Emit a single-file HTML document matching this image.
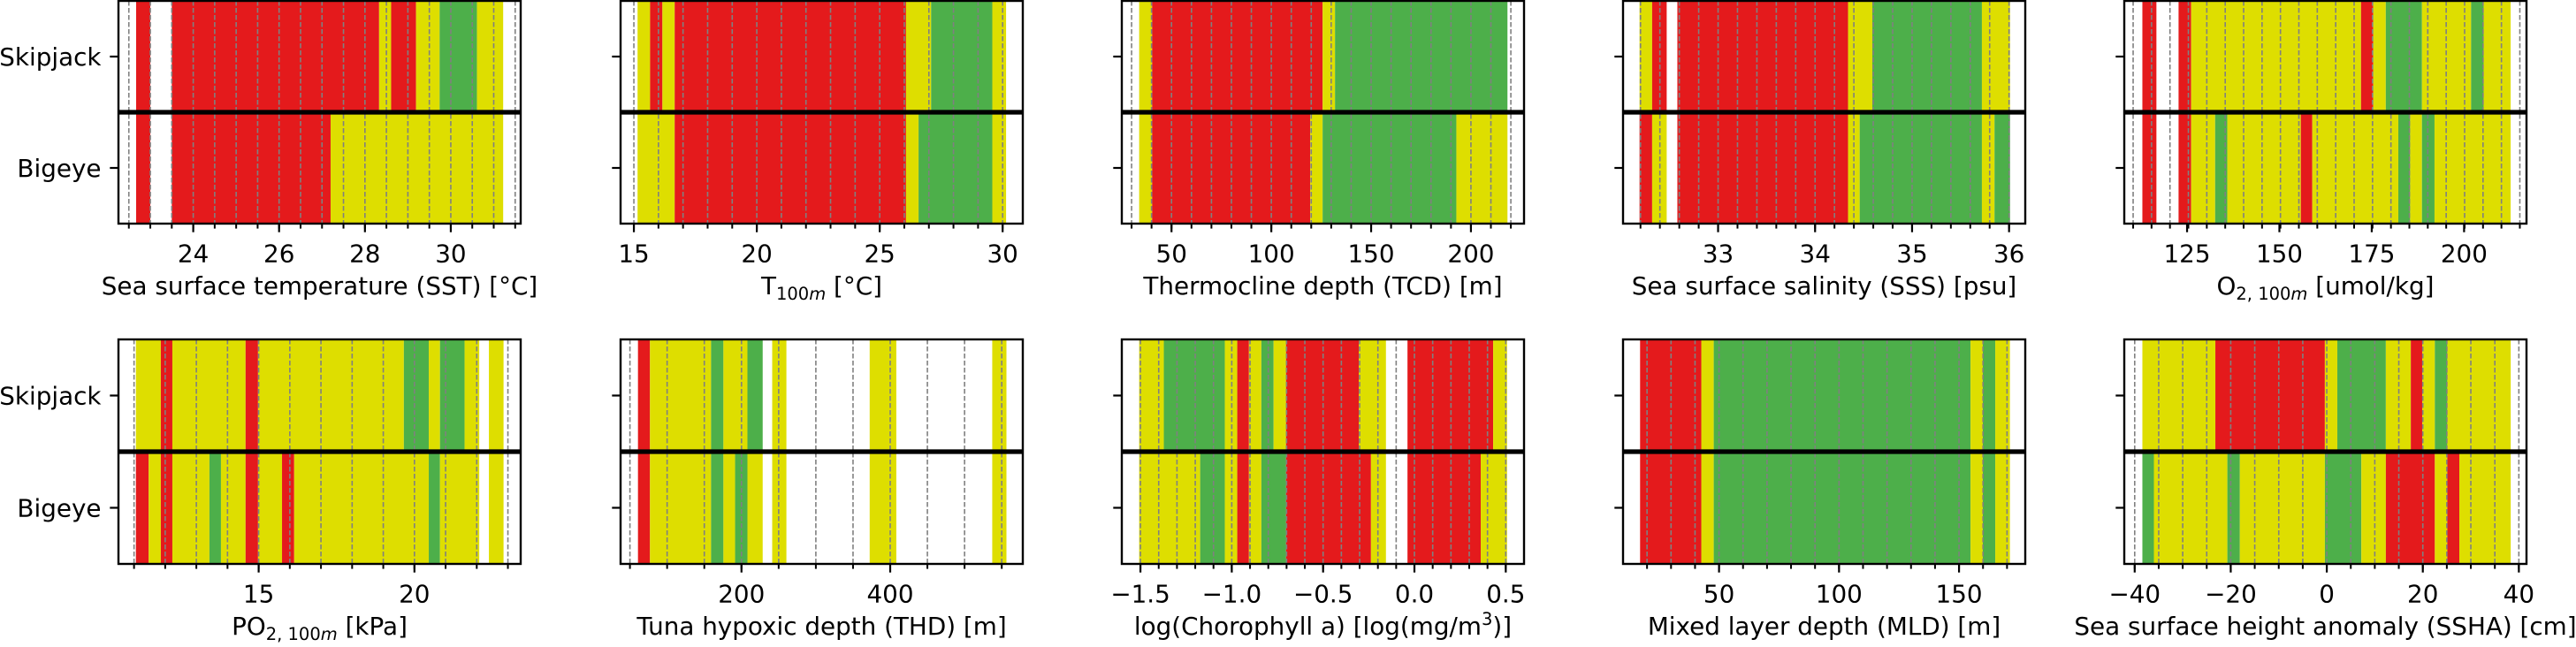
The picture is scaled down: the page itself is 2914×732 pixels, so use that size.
<!DOCTYPE html>
<html><head><meta charset="utf-8"><style>
html,body{margin:0;padding:0;background:#fff;}
svg{display:block;font-family:"DejaVu Sans","Liberation Sans",sans-serif;}
</style></head><body>
<svg id="fig" xmlns="http://www.w3.org/2000/svg" width="2914" height="732" viewBox="0 0 2914 732"></svg>
<script>
// ---- data ----
const species = ['Skipjack', 'Bigeye'];
const sstDomain = [22.258, 31.628];
const sstTicks = [24, 26, 28, 30];
const sstGrid = [22.5, 31.5, 19];
const sstSkip = [[22.67,23.0,'R'],[23.5,28.33,'R'],[28.33,28.61,'Y'],[28.61,29.19,'R'],[29.19,29.74,'Y'],[29.74,30.61,'G'],[30.61,31.22,'Y']];
const sstBig = [[22.67,23.0,'R'],[23.5,27.20,'R'],[27.20,31.22,'Y']];

const t100Domain = [14.459, 30.82];
const t100Ticks = [15, 20, 25, 30];
const t100Grid = [15, 30, 16];
const t100Skip = [[15.15,15.66,'Y'],[15.66,16.16,'R'],[16.16,16.66,'Y'],[16.66,26.07,'R'],[26.07,27.09,'Y'],[27.09,29.58,'G'],[29.58,30.14,'Y']];
const t100Big = [[15.15,16.66,'Y'],[16.66,26.07,'R'],[26.07,26.58,'Y'],[26.58,29.58,'G'],[29.58,30.14,'Y']];

const tcdDomain = [25.1, 226.6];
const tcdTicks = [50, 100, 150, 200];
const tcdGrid = [30, 220, 20];
const tcdSkip = [[33.8,40.3,'Y'],[40.3,125.7,'R'],[125.7,131.9,'Y'],[131.9,218.3,'G']];
const tcdBig = [[33.8,40.3,'Y'],[40.3,119.5,'R'],[119.5,125.7,'Y'],[125.7,192.7,'G'],[192.7,218.3,'Y']];

const sssDomain = [32.02, 36.167];
const sssTicks = [33, 34, 35, 36];
const sssGrid = [32.2, 36.0, 20];
const sssSkip = [[32.19,32.32,'Y'],[32.32,32.47,'R'],[32.58,34.34,'R'],[34.34,34.59,'Y'],[34.59,35.72,'G'],[35.72,36.01,'Y']];
const sssBig = [[32.19,32.32,'R'],[32.32,32.47,'Y'],[32.58,34.34,'R'],[34.34,34.46,'Y'],[34.46,35.72,'G'],[35.72,35.85,'Y'],[35.85,36.01,'G']];

const o2Domain = [108.0, 216.9];
const o2Ticks = [125, 150, 175, 200];
const o2Grid = [110.4, 215.1, 22];
const o2Skip = [[112.9,116.7,'R'],[122.7,126.1,'R'],[126.1,172.1,'Y'],[172.1,175.4,'R'],[175.4,178.8,'Y'],[178.8,188.6,'G'],[188.6,201.9,'Y'],[201.9,205.3,'G'],[205.3,212.6,'Y']];
const o2Big = [[112.9,116.7,'R'],[122.7,126.1,'R'],[126.1,132.6,'Y'],[132.6,135.9,'G'],[135.9,155.8,'Y'],[155.8,158.9,'R'],[158.9,182.2,'Y'],[182.2,185.4,'G'],[185.4,188.6,'Y'],[188.6,192.0,'G'],[192.0,212.6,'Y']];

const po2Domain = [10.50, 23.41];
const po2Ticks = [15, 20];
const po2Grid = [11, 23, 13];
const po2Skip = [[11.06,11.86,'Y'],[11.86,12.23,'R'],[12.23,14.58,'Y'],[14.58,14.98,'R'],[14.98,19.66,'Y'],[19.66,20.46,'G'],[20.46,20.82,'Y'],[20.82,21.61,'G'],[21.61,22.08,'Y'],[22.39,22.86,'Y']];
const po2Big = [[11.06,11.47,'R'],[11.47,11.86,'Y'],[11.86,12.23,'R'],[12.23,13.42,'Y'],[13.42,13.79,'G'],[13.79,14.58,'Y'],[14.58,14.98,'R'],[14.98,15.75,'Y'],[15.75,16.14,'R'],[16.14,20.46,'Y'],[20.46,20.82,'G'],[20.82,22.08,'Y'],[22.39,22.86,'Y']];

const thdDomain = [37.4, 578.3];
const thdTicks = [200, 400];
const thdGrid = [50, 550, 11];
const thdSkip = [[60.8,76.9,'R'],[76.9,159.1,'Y'],[159.1,175.7,'G'],[175.7,208,'Y'],[208,228.5,'G'],[241.3,260.4,'Y'],[372.4,408.2,'Y'],[537.2,556.3,'Y']];
const thdBig = [[60.8,76.9,'R'],[76.9,159.1,'Y'],[159.1,175.7,'G'],[175.7,191.4,'Y'],[191.4,208,'G'],[208,228.5,'Y'],[241.3,260.4,'Y'],[372.4,408.2,'Y'],[537.2,556.3,'Y']];

const chlDomain = [-1.602, 0.600];
const chlTicks = [-1.5, -1.0, -0.5, 0.0, 0.5];
const chlGrid = [-1.5, 0.5, 21];
const chlSkip = [[-1.507,-1.372,'Y'],[-1.372,-1.038,'G'],[-1.038,-0.970,'Y'],[-0.970,-0.906,'R'],[-0.906,-0.838,'Y'],[-0.838,-0.771,'G'],[-0.771,-0.703,'Y'],[-0.703,-0.305,'R'],[-0.305,-0.156,'Y'],[-0.038,0.431,'R'],[0.431,0.507,'Y']];
const chlBig = [[-1.507,-1.173,'Y'],[-1.173,-1.038,'G'],[-1.038,-0.970,'Y'],[-0.970,-0.906,'R'],[-0.906,-0.838,'Y'],[-0.838,-0.703,'G'],[-0.703,-0.238,'R'],[-0.238,-0.156,'Y'],[-0.038,0.363,'R'],[0.363,0.507,'Y']];

const mldDomain = [10.0, 177.6];
const mldTicks = [50, 100, 150];
const mldGrid = [20, 170, 16];
const mldSkip = [[17.1,42.6,'R'],[42.6,47.8,'Y'],[47.8,154.8,'G'],[154.8,159.9,'Y'],[159.9,165.1,'G'],[165.1,171.2,'Y']];
const mldBig = [[17.1,42.6,'R'],[42.6,47.8,'Y'],[47.8,154.8,'G'],[154.8,159.9,'Y'],[159.9,165.1,'G'],[165.1,171.2,'Y']];

const sshaDomain = [-42.17, 41.59];
const sshaTicks = [-40, -20, 0, 20, 40];
const sshaGrid = [-40, 40, 17];
const sshaSkip = [[-38.4,-23.2,'Y'],[-23.2,-0.4,'R'],[-0.4,2.2,'Y'],[2.2,12.3,'G'],[12.3,17.5,'Y'],[17.5,19.9,'R'],[19.9,22.5,'Y'],[22.5,25.1,'G'],[25.1,38.3,'Y']];
const sshaBig = [[-38.4,-36.0,'G'],[-36.0,-20.7,'Y'],[-20.7,-18.1,'G'],[-18.1,-0.4,'Y'],[-0.4,7.2,'G'],[7.2,12.3,'Y'],[12.3,22.5,'R'],[22.5,25.1,'Y'],[25.1,27.6,'R'],[27.6,38.3,'Y']];

// ---- layout (pixels, not data) ----
const COLORS = {R:'#e41a1c', Y:'#dede00', G:'#4daf4a'};
const colX = [134, 702, 1269, 1836, 2403];
const PW = 455;
const rowY = [[1, 253], [384, 638]];

const panels = [
  {key:'sst', d:sstDomain, t:sstTicks, g:sstGrid, s:sstSkip, b:sstBig, col:0, row:0, dec:0, label:[['Sea surface temperature (SST) [°C]']]},
  {key:'t100', d:t100Domain, t:t100Ticks, g:t100Grid, s:t100Skip, b:t100Big, col:1, row:0, dec:0, label:[['T'],['100','sub','m'],[' [°C]']]},
  {key:'tcd', d:tcdDomain, t:tcdTicks, g:tcdGrid, s:tcdSkip, b:tcdBig, col:2, row:0, dec:0, label:[['Thermocline depth (TCD) [m]']]},
  {key:'sss', d:sssDomain, t:sssTicks, g:sssGrid, s:sssSkip, b:sssBig, col:3, row:0, dec:0, label:[['Sea surface salinity (SSS) [psu]']]},
  {key:'o2', d:o2Domain, t:o2Ticks, g:o2Grid, s:o2Skip, b:o2Big, col:4, row:0, dec:0, label:[['O'],['2, 100','sub','m'],[' [umol/kg]']]},
  {key:'po2', d:po2Domain, t:po2Ticks, g:po2Grid, s:po2Skip, b:po2Big, col:0, row:1, dec:0, label:[['PO'],['2, 100','sub','m'],[' [kPa]']]},
  {key:'thd', d:thdDomain, t:thdTicks, g:thdGrid, s:thdSkip, b:thdBig, col:1, row:1, dec:0, label:[['Tuna hypoxic depth (THD) [m]']]},
  {key:'chl', d:chlDomain, t:chlTicks, g:chlGrid, s:chlSkip, b:chlBig, col:2, row:1, dec:1, label:[['log(Chorophyll a) [log(mg/m'],['3','sup'],[')]']]},
  {key:'mld', d:mldDomain, t:mldTicks, g:mldGrid, s:mldSkip, b:mldBig, col:3, row:1, dec:0, label:[['Mixed layer depth (MLD) [m]']]},
  {key:'ssha', d:sshaDomain, t:sshaTicks, g:sshaGrid, s:sshaSkip, b:sshaBig, col:4, row:1, dec:0, label:[['Sea surface height anomaly (SSHA) [cm]']]}
];

const NS = 'http://www.w3.org/2000/svg';
const fig = document.getElementById('fig');
function mk(tag, attrs, parent){
  const e = document.createElementNS(NS, tag);
  for (const k in attrs) e.setAttribute(k, attrs[k]);
  parent.appendChild(e);
  return e;
}
function fmt(v, dec){
  const s = v.toFixed(dec);
  return s.charAt(0) === '-' ? '\u2212' + s.slice(1) : s;
}

panels.forEach(p => {
  const x0 = colX[p.col], x1 = x0 + PW;
  const y0 = rowY[p.row][0], y1 = rowY[p.row][1];
  const ym = (y0 + y1) / 2;
  const xs = v => x0 + (v - p.d[0]) / (p.d[1] - p.d[0]) * PW;
  const g = mk('g', {}, fig);
  
  

  [[p.s, y0, ym, 'skipjack'], [p.b, ym, y1, 'bigeye']].forEach(([arr, ya, yb, sp]) => {
    arr.forEach((seg, i) => {
      const r = mk('rect', {x: xs(seg[0]), y: ya, width: Math.max(0, xs(seg[1]) - xs(seg[0])), height: yb - ya, fill: COLORS[seg[2]]}, g);
      
      
    });
  });

  const [gs, ge, gn] = p.g;
  for (let i = 0; i < gn; i++) {
    const v = gs + (ge - gs) * i / (gn - 1);
    const x = xs(v);
    const l = mk('line', {x1: x, x2: x, y1: y0, y2: y1, stroke: '#808080', 'stroke-width': 1.6, 'stroke-dasharray': '5.5 2.5'}, g);
    
    
    const t = mk('line', {x1: x, x2: x, y1: y1, y2: y1 + 5.6, stroke: '#000', 'stroke-width': 2}, g);
    
    
  }

  const mid = mk('line', {x1: x0, x2: x1, y1: ym, y2: ym, stroke: '#000', 'stroke-width': 5.3}, g);
  
  

  const fr = mk('rect', {x: x0, y: y0, width: PW, height: y1 - y0, fill: 'none', stroke: '#000', 'stroke-width': 2.4}, g);
  
  

  p.t.forEach(v => {
    const x = xs(v);
    const t = mk('line', {x1: x, x2: x, y1: y1, y2: y1 + 9.7, stroke: '#000', 'stroke-width': 2.2}, g);
    
    
    const tl = mk('text', {x: x, y: y1 + 43.7, 'font-size': 27.8, 'text-anchor': 'middle', fill: '#000'}, g);
    tl.textContent = fmt(v, p.dec);
    
    
  });

  const yt = [(y0 + ym) / 2, (ym + y1) / 2];
  yt.forEach((y, i) => {
    const t = mk('line', {x1: x0 - 9.7, x2: x0, y1: y, y2: y, stroke: '#000', 'stroke-width': 2.2}, g);
    
    
    if (p.col === 0) {
      const tl = mk('text', {x: x0 - 19.5, y: y + 10, 'font-size': 27.8, 'text-anchor': 'end', fill: '#000'}, g);
      tl.textContent = species[i];
      
      
    }
  });

  const xt = mk('text', {x: x0 + PW / 2, y: y1 + 80, 'font-size': 27.8, 'text-anchor': 'middle', fill: '#000'}, g);
  
  
  let pending = 0;
  p.label.forEach(part => {
    const ts = document.createElementNS(NS, 'tspan');
    if (part[1] === 'sub') {
      ts.setAttribute('font-size', 19.5);
      ts.setAttribute('dy', 6 + pending);
      ts.appendChild(document.createTextNode(part[0]));
      if (part[2]) {
        const it = document.createElementNS(NS, 'tspan');
        it.setAttribute('font-style', 'italic');
        it.textContent = part[2];
        ts.appendChild(it);
      }
      pending = -6;
    } else if (part[1] === 'sup') {
      ts.setAttribute('font-size', 19.5);
      ts.setAttribute('dy', -11 + pending);
      ts.textContent = part[0];
      pending = 11;
    } else {
      if (pending) ts.setAttribute('dy', pending);
      ts.textContent = part[0];
      pending = 0;
    }
    xt.appendChild(ts);
  });
});
</script>
</body></html>
